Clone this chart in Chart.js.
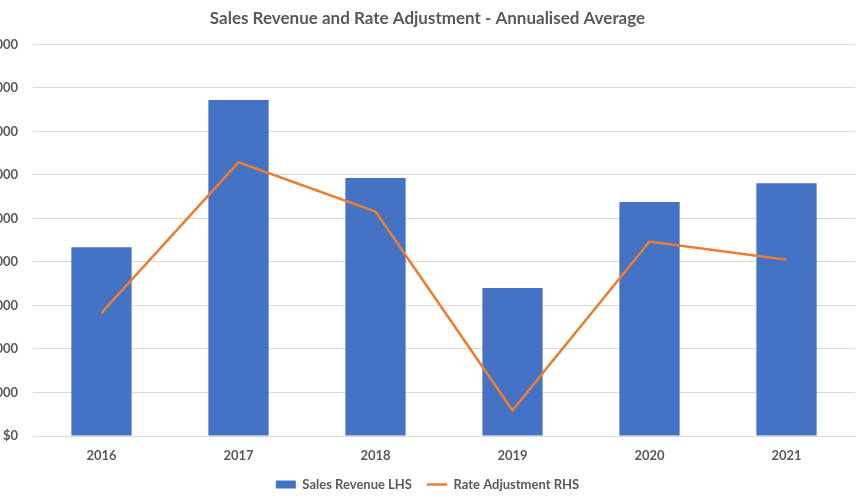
<!DOCTYPE html>
<html>
<head>
<meta charset="utf-8">
<script src="https://cdn.jsdelivr.net/npm/chart.js@4"></script>
<style>
  html, body { margin: 0; padding: 0; background: #fff; }
  #wrap { position: relative; width: 860px; height: 500px; overflow: hidden; }
  #grafico { position: absolute; left: -40px; top: 0; }
</style>
</head>
<body>
<div id="wrap">
  <canvas id="grafico" width="900" height="500"></canvas>
</div>
<script>
// dados do grafico
const anos = ['2016', '2017', '2018', '2019', '2020', '2021'];
const receita = [4340, 7720, 5930, 3400, 5380, 5810];   // Sales Revenue LHS
const ajuste = [2.83, 6.29, 5.16, 0.59, 4.47, 4.05];     // Rate Adjustment RHS
const ticksEsq = [0, 1000, 2000, 3000, 4000, 5000, 6000, 7000, 8000, 9000];

const cinza = '#595959';
const fonte = 'Lato, "Open Sans", sans-serif';

const ctx = document.getElementById('grafico').getContext('2d');
new Chart(ctx, {
  data: {
    labels: anos,
    datasets: [
      {
        type: 'line',
        label: 'Rate Adjustment RHS',
        data: ajuste,
        yAxisID: 'y1',
        borderColor: '#ED7D31',
        backgroundColor: '#ED7D31',
        borderWidth: 2.5,
        pointRadius: 0,
        pointStyle: 'line',
        tension: 0,
        order: 1
      },
      {
        type: 'bar',
        label: 'Sales Revenue LHS',
        data: receita,
        yAxisID: 'y',
        backgroundColor: '#4472C4',
        borderWidth: 0,
        pointStyle: 'rect',
        categoryPercentage: 1,
        barPercentage: 0.44,
        order: 2
      }
    ]
  },
  options: {
    responsive: false,
    animation: false,
    layout: { padding: { left: 40, right: 5, top: 0, bottom: -1 } },
    plugins: {
      title: {
        display: true,
        text: 'Sales Revenue and Rate Adjustment - Annualised Average',
        color: cinza,
        font: { family: fonte, size: 17, weight: 'bold' },
        padding: { top: 8, bottom: 16 }
      },
      legend: {
        position: 'bottom',
        reverse: true,
        labels: {
          color: cinza,
          font: { family: fonte, size: 13, weight: 'bold', lineHeight: 1 },
          usePointStyle: true,
          pointStyleWidth: 20,
          boxWidth: 20,
          boxHeight: 8,
          padding: 15
        }
      },
      tooltip: { enabled: false }
    },
    scales: {
      x: {
        afterFit: function (scale) { scale.height = 27; },
        grid: { display: false, drawTicks: false },
        border: { display: true, color: '#D9D9D9' },
        ticks: {
          color: cinza,
          font: { family: fonte, size: 13, weight: 'bold', lineHeight: 1 },
          padding: 13.5
        }
      },
      y: {
        position: 'left',
        min: 0,
        max: 9000,
        afterFit: function (scale) { scale.width = 33; },
        afterBuildTicks: function (scale) {
          scale.ticks = ticksEsq.map(v => ({ value: v }));
        },
        grid: { color: '#D9D9D9', drawTicks: false },
        border: { display: false },
        ticks: {
          color: cinza,
          font: { family: fonte, size: 13, weight: 'bold' },
          padding: 15,
          callback: v => '$' + v.toLocaleString('en-US')
        }
      },
      y1: {
        position: 'right',
        display: false,
        min: 0,
        max: 9
      }
    }
  }
});
</script>
</body>
</html>
